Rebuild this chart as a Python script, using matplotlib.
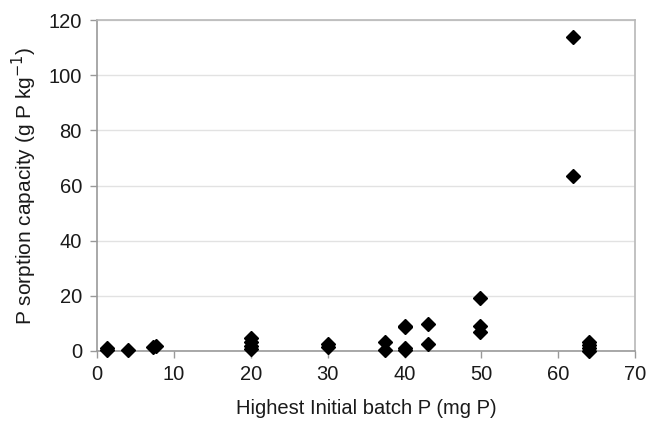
#!/usr/bin/env python

import matplotlib
matplotlib.use('Agg')
import matplotlib.pyplot as plt

# highest initial batch P (mg P) and sorption capacity (g P/kg)
batch_p = [1.3, 1.3, 4.0, 7.3, 7.6,
           20, 20, 20, 20,
           30, 30,
           37.4, 37.4,
           40, 40, 40, 40,
           43, 43,
           49.8, 49.8, 49.8,
           61.9, 61.9,
           64, 64, 64, 64]
sorption = [1.0, 0.3, 0.3, 1.5, 1.8,
            0.6, 1.8, 3.2, 4.8,
            1.5, 2.5,
            0.4, 3.2,
            0.2, 0.9, 8.5, 9.1,
            2.5, 9.8,
            6.7, 9.0, 19.3,
            63.3, 114.0,
            0.1, 1.0, 2.2, 3.4]

xticks = [0, 10, 20, 30, 40, 50, 60, 70]
yticks = [0, 20, 40, 60, 80, 100, 120]

plt.rcParams['font.family'] = ['Liberation Sans', 'DejaVu Sans']

fig = plt.figure(figsize=(6.48, 4.29), dpi=100)
ax = fig.add_axes([0.150, 0.182, 0.830, 0.771])

ax.plot(batch_p, sorption, 'D', color='black', markersize=7.2, linestyle='none',
        zorder=3, clip_on=False)

ax.set_xlim(0, 70)
ax.set_ylim(0, 120)
ax.set_xticks(xticks)
ax.set_yticks(yticks)
ax.yaxis.grid(True, color='#e2e2e2', linewidth=1.0)
ax.set_axisbelow(True)

for s in ['left', 'bottom']:
  ax.spines[s].set_color('#999999')
  ax.spines[s].set_linewidth(1.2)
for s in ['top', 'right']:
  ax.spines[s].set_color('#b8b8b8')
  ax.spines[s].set_linewidth(1.2)

ax.tick_params(axis='both', colors='#999999', labelcolor='#1a1a1a',
               labelsize=14.5, length=5, width=1)
ax.tick_params(axis='y', pad=6)
ax.tick_params(axis='x', pad=5)

ax.set_xlabel('Highest Initial batch P (mg P)', fontsize=14.5, color='#1a1a1a', labelpad=11)
ax.set_ylabel('P sorption capacity (g P kg$^{-1}$)', fontsize=15, color='#1a1a1a', labelpad=7)

fig.savefig('out.png', dpi=100)
